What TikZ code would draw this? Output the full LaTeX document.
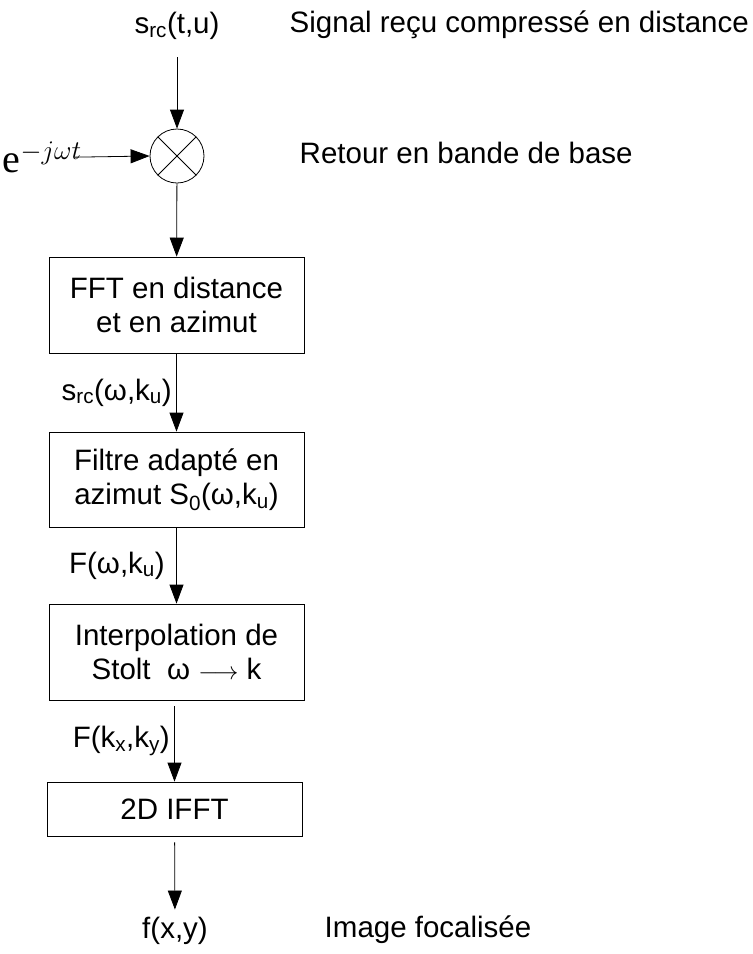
\documentclass[tikz,border=0pt]{standalone}
\usepackage{fontspec}
\setmainfont{Liberation Sans}
\newfontfamily\timesfont{Liberation Serif}
\usetikzlibrary{arrows.meta}
\tikzset{
    block/.style = {
        draw,
        rectangle,
        minimum width = 255pt,
        align = center,
        inner sep = 0pt,
    },
    mixer/.style = {
        draw,
        circle,
        minimum size = 54pt,
        inner sep = 0pt,
    },
    flow/.style = {
        -{Triangle[length=19pt,width=14pt]},
        line width = 0.8pt,
    }
}

\begin{document}
\begin{tikzpicture}[x=1pt, y=-1pt, line width=0.8pt,
    every node/.style={font=\fontsize{29.5}{34}\selectfont}]
  % fix the page to the size of the reference
  \path[use as bounding box] (0,0) rectangle (753,954);

  \node (src) at (177,26) {s\textsubscript{rc}(t,u)};
  \node[mixer] (mix) at (177,156) {};
  \draw (mix.north west) -- (mix.south east) (mix.north east) -- (mix.south west);
  \node (carrier) at (42,157) {\timesfont\fontsize{40}{44}\selectfont e\raisebox{13pt}{\scalebox{1.3}{\fontsize{22}{24}\selectfont$-j\omega t$}}};

  \node[block, minimum height=96pt] (fft)   at (176.5,305) {FFT en distance\\ et en azimut};
  \node[block, minimum height=95pt] (match) at (176.5,479.5) {Filtre adapté en\\ azimut S\textsubscript{0}(ω,k\textsubscript{u})};
  \node[block, minimum height=96pt] (stolt) at (176.5,652) {Interpolation de\\ Stolt \ ω $\longrightarrow$ k};
  \node[block, minimum height=54pt] (ifft)  at (174.5,809) {2D IFFT};
  \node (img) at (175,931) {f(x,y)};

  \node[anchor=west] (t1) at (286,25) {Signal reçu compressé en distance};
  \node[anchor=west] (t2) at (296,153) {Retour en bande de base};
  \node[anchor=west] (t3) at (321,930) {Image focalisée};

  \draw[flow, shorten <=14pt] (src) -- (mix);
  \draw[flow, shorten <=-10pt] (carrier.east) -- (mix.west);
  \draw[flow] (mix) -- (fft);
  \draw[flow] (fft) -- node[left=1pt] {s\textsubscript{rc}(ω,k\textsubscript{u})} (match);
  \draw[flow] (match) -- node[left=8pt] {F(ω,k\textsubscript{u})} (stolt);
  \draw[flow, shorten <=6pt] (ifft.north |- stolt.south) -- node[left=1pt] {F(k\textsubscript{x},k\textsubscript{y})} (ifft);
  \draw[flow, shorten <=6pt, shorten >=4pt] (ifft) -- (img);
\end{tikzpicture}
\end{document}
